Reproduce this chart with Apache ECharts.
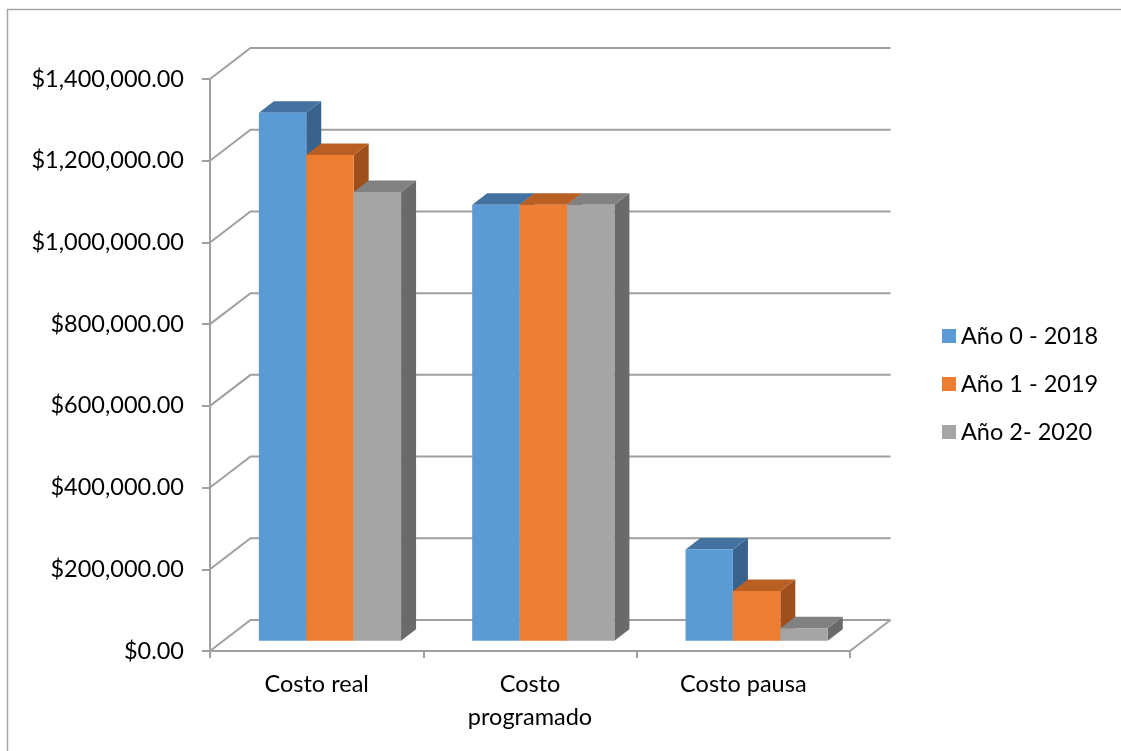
<!DOCTYPE html>
<html>
<head>
<meta charset="utf-8">
<script src="https://cdn.jsdelivr.net/npm/echarts@6/dist/echarts.min.js"></script>
<style>
html,body{margin:0;padding:0;background:#fff;}
#chart{width:1121px;height:751px;}
</style>
</head>
<body>
<div id="chart"></div>
<script>
const categories = ['Costo real', 'Costo\nprogramado', 'Costo pausa'];
const seriesNames = ['Año 0 - 2018', 'Año 1 - 2019', 'Año 2- 2020'];
const year0 = [1292000, 1067000, 223500];
const year1 = [1189000, 1067000, 121500];
const year2 = [1098000, 1067000, 30300];
const yTicks = [0, 200000, 400000, 600000, 800000, 1000000, 1200000, 1400000];

const FONT = 'Lato';
const FS = 23.5;
const LINE = '#A0A0A0';
const WALL_DX = 40.5, WALL_DY = -31;
const BAR_FX = 13.3, BAR_FY = -10.3;
const BAR_DX = 15, BAR_DY = -11.5;
const faces = [
  {front: '#5B9BD5', top: '#4472A0', side: '#39628C'},
  {front: '#ED7D31', top: '#B95F23', side: '#9E4F1C'},
  {front: '#A5A5A5', top: '#818181', side: '#6A6A6A'}
];

function frameItem(params, api) {
  const v = api.value(1);
  const p = api.coord([0, v]);
  const band = api.size([1, 0])[0];
  const left = p[0] - band / 2;
  const right = left + band * categories.length;
  const style = {stroke: LINE, lineWidth: 2, fill: null};
  const children = [{
    type: 'polyline',
    shape: {points: [[left, p[1]], [left + WALL_DX, p[1] + WALL_DY], [right + WALL_DX, p[1] + WALL_DY]]},
    style: style
  }];
  if (v === 0) {
    children.push({
      type: 'line',
      shape: {x1: right, y1: p[1], x2: right + WALL_DX, y2: p[1] + WALL_DY},
      style: style
    });
  }
  return {type: 'group', children: children};
}

function barRenderer(si) {
  return function (params, api) {
    const cat = api.value(0);
    const val = api.value(1);
    const top = api.coord([cat, val]);
    const base = api.coord([cat, 0]);
    const band = api.size([1, 0])[0];
    const w = band * 0.2222;
    const x0 = top[0] - 1.5 * w + si * w + BAR_FX;
    const x1 = x0 + w;
    const yT = top[1] + BAR_FY;
    const yB = base[1] + BAR_FY;
    const f = faces[si];
    return {
      type: 'group',
      children: [
        {type: 'polygon', shape: {points: [[x1, yT], [x1 + BAR_DX, yT + BAR_DY], [x1 + BAR_DX, yB + BAR_DY], [x1, yB]]}, style: {fill: f.side}},
        {type: 'polygon', shape: {points: [[x0, yT], [x0 + BAR_DX, yT + BAR_DY], [x1 + BAR_DX, yT + BAR_DY], [x1, yT]]}, style: {fill: f.top}},
        {type: 'rect', shape: {x: x0, y: yT, width: w, height: yB - yT}, style: {fill: f.front}}
      ]
    };
  };
}

const seriesData = [year0, year1, year2];
const series = [{
  type: 'custom',
  name: 'frame',
  renderItem: frameItem,
  data: yTicks.map(v => [0, v]),
  clip: false,
  silent: true,
  z: 1
}];
seriesData.forEach((arr, si) => {
  series.push({
    type: 'custom',
    name: seriesNames[si],
    renderItem: barRenderer(si),
    data: arr.map((v, i) => [i, v]),
    itemStyle: {color: faces[si].front},
    clip: false,
    z: 3 + si
  });
});

const chart = echarts.init(document.getElementById('chart'));
chart.setOption({
  animation: false,
  backgroundColor: '#fff',
  textStyle: {fontFamily: FONT},
  graphic: [{
    type: 'rect',
    shape: {x: 7.5, y: 9.5, width: 1130, height: 760},
    style: {fill: null, stroke: '#A6A6A6', lineWidth: 1.5},
    silent: true
  }],
  grid: {left: 210, top: 79, width: 640, height: 572, containLabel: false},
  xAxis: {
    type: 'category',
    data: categories,
    axisLine: {show: true, lineStyle: {color: LINE, width: 2}},
    axisTick: {show: true, length: 7, interval: 0, lineStyle: {color: LINE, width: 2}},
    axisLabel: {color: '#000', fontSize: FS, fontFamily: FONT, lineHeight: 33, margin: 17, interval: 0},
    splitLine: {show: false}
  },
  yAxis: {
    type: 'value',
    min: 0, max: 1400000, interval: 200000,
    axisLine: {show: true, lineStyle: {color: LINE, width: 2}},
    axisTick: {show: true, length: 8, lineStyle: {color: LINE, width: 2}},
    axisLabel: {
      color: '#000', fontSize: FS, fontFamily: FONT, margin: 26,
      formatter: v => '$' + v.toLocaleString('en-US', {minimumFractionDigits: 2, maximumFractionDigits: 2})
    },
    splitLine: {show: false}
  },
  legend: {
    orient: 'vertical',
    left: 937, top: 319,
    data: seriesNames,
    icon: 'rect',
    itemWidth: 14, itemHeight: 14,
    itemGap: 24,
    textStyle: {color: '#000', fontSize: FS, fontFamily: FONT, lineHeight: 24}
  },
  series: series
});
</script>
</body>
</html>
